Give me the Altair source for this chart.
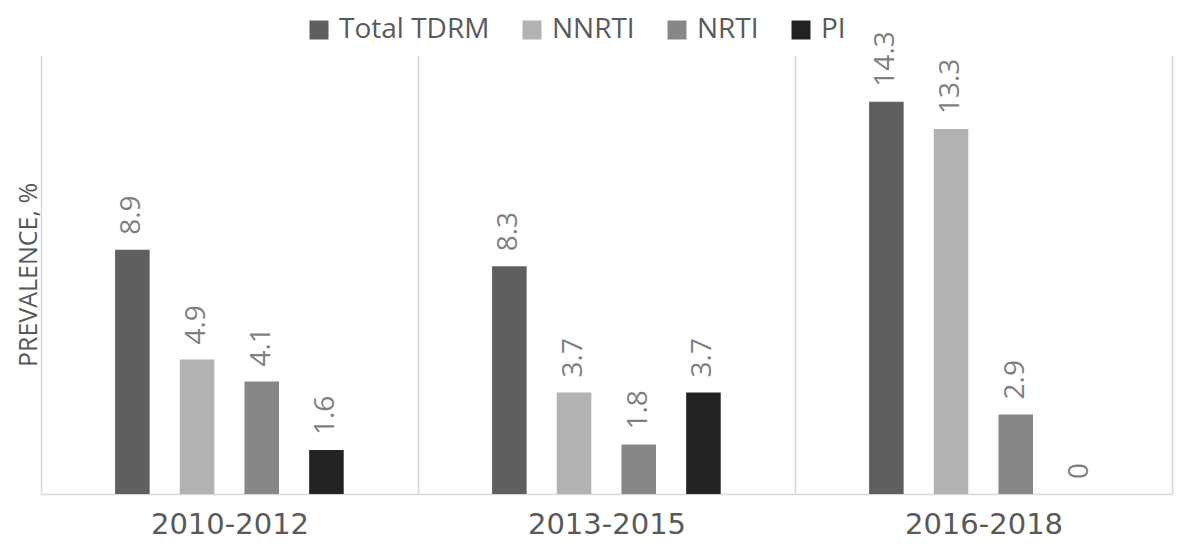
import altair as alt
import pandas as pd

periods = ["2010-2012", "2013-2015", "2016-2018"]
series = ["Total TDRM", "NNRTI", "NRTI", "PI"]
total_tdrm = [8.9, 8.3, 14.3]
nnrti = [4.9, 3.7, 13.3]
nrti = [4.1, 1.8, 2.9]
pi = [1.6, 3.7, 0]
colors = ["#5f5f5f", "#b2b2b2", "#878787", "#222222"]

rows = []
for s, vals in zip(series, [total_tdrm, nnrti, nrti, pi]):
    for p, v in zip(periods, vals):
        rows.append({"period": p, "series": s, "value": v, "label": f"{v:g}"})
df = pd.DataFrame(rows)

x = alt.X(
    "period:N", sort=periods,
    scale=alt.Scale(paddingInner=0, paddingOuter=0),
    axis=alt.Axis(
        title=None, tickBand="extent", grid=True, gridColor="#d9d9d9", gridWidth=1.5,
        ticks=False, domain=True, domainColor="#d9d9d9", domainWidth=1.5,
        labelAngle=0, labelFont="DejaVu Sans", labelFontSize=29, labelColor="#595959",
        labelPadding=16,
    ),
)
xo = alt.XOffset("series:N", sort=series,
                 scale=alt.Scale(domain=series, range=[74.1, 302.7], paddingInner=0.466, paddingOuter=0))
y = alt.Y(
    "value:Q",
    scale=alt.Scale(domain=[0, 16], nice=False, zero=True),
    axis=alt.Axis(
        title="PREVALENCE, %", labels=False, ticks=False, grid=False, domain=False,
        titleFont="Open Sans", titleFontSize=25, titleFontWeight="normal",
        titleColor="#595959", titlePadding=0,
    ),
)

base = alt.Chart(df)

bars = base.mark_bar().encode(
    x=x, xOffset=xo, y=y,
    color=alt.Color(
        "series:N", sort=series,
        scale=alt.Scale(domain=series, range=colors),
        legend=alt.Legend(
            title=None, orient="none", legendX=264, legendY=-39,
            direction="horizontal", symbolType="square", symbolSize=361,
            symbolStrokeWidth=0, labelFont="Open Sans", labelFontSize=28,
            labelColor="#595959", columnPadding=28, labelOffset=6,
            labelLimit=400, padding=0,
        ),
    ),
)

labels = base.mark_text(
    angle=270, align="left", baseline="middle", dx=15,
    font="Open Sans", fontSize=28, color="#7f7f7f",
).encode(x=x, xOffset=xo, y=y, text="label:N")

chart = (
    alt.layer(bars, labels)
    .properties(
        width=1131, height=439,
        padding={"left": 33, "top": 47, "right": 2, "bottom": 47},
        autosize=alt.AutoSizeParams(type="none"),
        background="white",
    )
    .configure_view(stroke=None)
)

chart.save("out.html", embed_options={"renderer": "svg", "actions": False})
